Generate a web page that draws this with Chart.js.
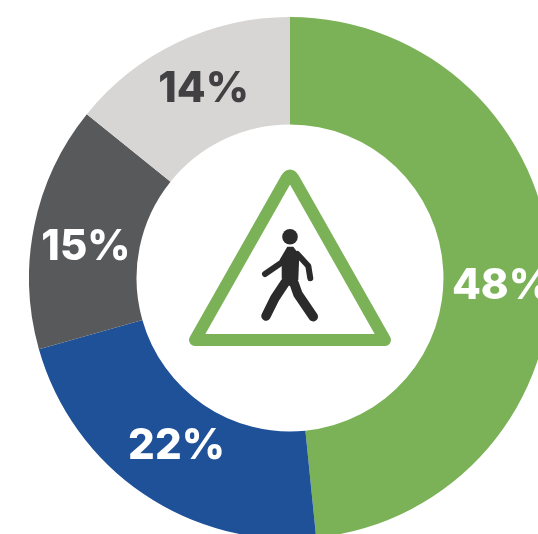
<!DOCTYPE html>
<html>
<head>
<meta charset="utf-8">
<script src="https://cdn.jsdelivr.net/npm/chart.js@4"></script>
<style>
html,body{margin:0;padding:0;width:538px;height:534px;overflow:hidden;background:#fff}
#wrap{position:absolute;left:29px;top:17px;width:522px;height:522px}
#icon{position:absolute;left:0;top:0}
</style>
</head>
<body>
<div id="wrap"><canvas id="c" width="522" height="522"></canvas></div>
<svg id="icon" width="538" height="534" viewBox="0 0 538 534" aria-hidden="true">
  <path d="M286.5 178.5Q290 172.3 293.5 178.5L385 340H195Z" fill="none" stroke="#7bb257" stroke-width="12" stroke-linejoin="round"/>
  <circle cx="290" cy="236.7" r="7.8" fill="#2b2b2b"/>
  <path d="M287.3 246.7H293.3L299.3 255L298.3 280L289.3 286L281.7 278.3V264L279.5 260Z" fill="#2b2b2b"/>
  <g fill="none" stroke="#2b2b2b" stroke-linecap="round" stroke-linejoin="round">
    <path d="M297.3 254L308.3 266L310.3 278.3" stroke-width="6"/>
    <path d="M281 263L265 274" stroke-width="6"/>
    <path d="M285.3 282.3L274.7 298.3L266 316" stroke-width="9.5"/>
    <path d="M294 283L298 294.3L313.3 316.7" stroke-width="9.5"/>
  </g>
</svg>
<script>
const categories = ["Green", "Blue", "Dark grey", "Light grey"];
const values = [48.4, 22.2, 15.2, 14.2];
const tickLabels = ["48%", "22%", "15%", "14%"];
const colors = ["#7bb257", "#1f5199", "#58595b", "#d7d6d4"];
const labelColors = ["#ffffff", "#ffffff", "#ffffff", "#414042"];
const labelNudgeX = [5, 3, -1, 3];
const labelNudgeY = [19, -3, 11, -2];

const sliceLabels = {
  id: "sliceLabels",
  afterDatasetsDraw(chart) {
    const ctx = chart.ctx;
    ctx.save();
    ctx.font = "800 42px Inter, sans-serif";
    ctx.textAlign = "center";
    ctx.textBaseline = "middle";
    chart.getDatasetMeta(0).data.forEach((arc, i) => {
      const p = arc.tooltipPosition();
      ctx.fillStyle = labelColors[i];
      ctx.fillText(tickLabels[i], p.x + labelNudgeX[i], p.y + labelNudgeY[i]);
    });
    ctx.restore();
  }
};

new Chart(document.getElementById("c"), {
  type: "doughnut",
  data: {
    labels: categories,
    datasets: [{ data: values, backgroundColor: colors, borderWidth: 0 }]
  },
  options: {
    responsive: false,
    animation: false,
    cutout: "58.8%",
    layout: { padding: 0 },
    plugins: { legend: { display: false }, tooltip: { enabled: false } }
  },
  plugins: [sliceLabels]
});
</script>
</body>
</html>
